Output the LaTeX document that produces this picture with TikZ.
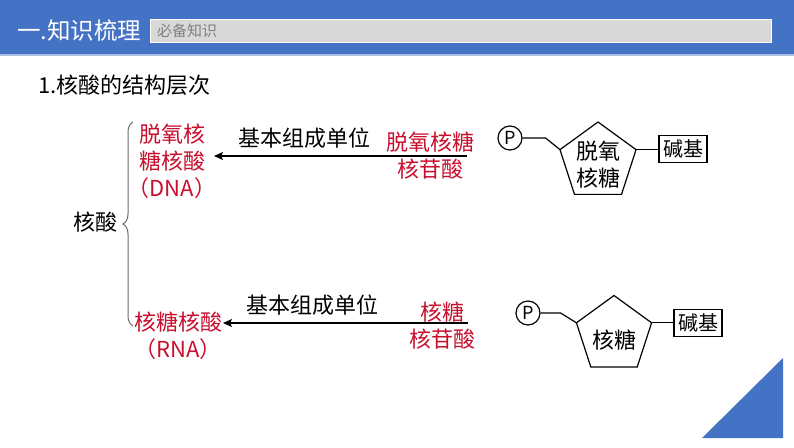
\documentclass[tikz,border=0pt]{standalone}
\usepackage{fontspec}
\setmainfont{Noto Sans CJK SC}
\usetikzlibrary{shapes.geometric, arrows.meta, decorations.pathreplacing}
\definecolor{hblue}{HTML}{4472C4}
\definecolor{hred}{HTML}{C8102E}
\tikzset{
  txt/.style={inner sep=0pt, font=\fontsize{22}{27}\selectfont, align=center},
  redtxt/.style={txt, text=hred},
  pent/.style={regular polygon, regular polygon sides=5, draw, line width=1.2pt, minimum size=80pt, inner sep=0pt, outer sep=0pt},
  phos/.style={circle, draw, line width=1.2pt, minimum size=24pt, inner sep=0pt, font=\fontsize{18}{18}\selectfont},
  basebox/.style={rectangle, draw, line width=1.2pt, minimum height=26pt, inner sep=4pt, outer sep=0pt, font=\fontsize{20}{20}\selectfont},
  link/.style={line width=1.2pt},
  arr/.style={line width=1.4pt, -{Stealth[length=9pt, width=8pt, inset=2pt]}}
}
\begin{document}
\begin{tikzpicture}[x=1pt, y=-1pt]
\useasboundingbox[fill=white](0,0) rectangle (794,447);
\fill[hblue](0,0) rectangle (794,54);
\fill[hblue!45!white](0,54) rectangle (794,56);
\node[fill=gray!30, draw=white, anchor=north west, minimum width=621pt, minimum height=23pt, inner sep=0pt](tagbox) at (150,19) {};
\node[anchor=west, inner sep=0pt, text=gray, font=\fontsize{15}{15}\selectfont](tag) at (157,31) {必备知识};
\node[anchor=west, inner sep=0pt, text=white, font=\fontsize{23.5}{24}\selectfont](title) at (17,31) {一.知识梳理};
\node[txt, anchor=west](heading) at (38,85) {1.核酸的结构层次};

\node[txt, anchor=east](nucleic) at (118,222) {核酸};
\coordinate(btop) at (133,122);
\coordinate(bbot) at (133,326);
\draw[gray!85!black, line width=1pt, decorate, decoration={brace, amplitude=10pt}](bbot)--(btop);

% DNA
\node[redtxt](dna) at (172,161) {脱氧核\\糖核酸\\（DNA）};
\node[redtxt](dnaunit) at (430,156) {脱氧核糖\\核苷酸};
\coordinate(dnatail) at (467,156);
\coordinate(dnahead) at (214,156);
\draw[arr](dnatail)--node[txt, above=7pt, xshift=-36pt]{基本组成单位}(dnahead);
\node[phos](P1) at (510,138) {P};
\node[pent](sugar1) at (598,162) {};
\node[txt](sugartxt1) at (598,165) {脱氧\\核糖};
\node[basebox](base1) at (683,149) {碱基};
\draw[link](P1.east)--++(23,0)--(sugar1.corner 2);
\draw[link](sugar1.corner 5)--(sugar1.corner 5-|base1.west);

% RNA
\node[redtxt](rna) at (178,336) {核糖核酸\\（RNA）};
\node[redtxt](rnaunit) at (442,326) {核糖\\核苷酸};
\coordinate(rnatail) at (468,323);
\coordinate(rnahead) at (223,323);
\draw[arr](rnatail)--node[txt, above=7pt, xshift=-33pt]{基本组成单位}(rnahead);
\node[phos](P2) at (528,313) {P};
\node[pent, minimum size=79pt](sugar2) at (614,335) {};
\node[txt](sugartxt2) at (614,340) {核糖};
\node[basebox](base2) at (698,323) {碱基};
\draw[link](P2.east)--++(20,0)--(sugar2.corner 2);
\draw[link](sugar2.corner 5)--(sugar2.corner 5-|base2.west);

\fill[hblue](702,438)--(783,438)--(783,358)--cycle;
\end{tikzpicture}
\end{document}
